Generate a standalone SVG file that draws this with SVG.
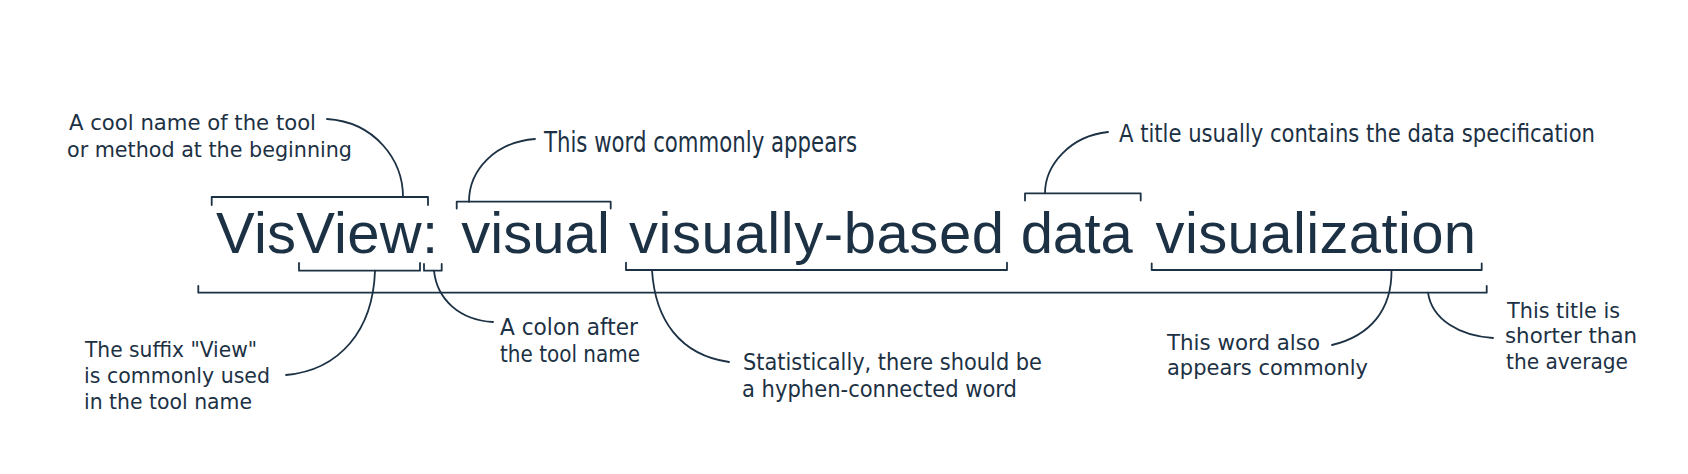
<svg xmlns="http://www.w3.org/2000/svg" width="1688" height="474" viewBox="0 0 1688 474">
<style>
.w{font-family:'Liberation Sans',Arial,sans-serif;font-size:58px;fill:#1c3144}
.n{font-family:'DejaVu Sans Condensed','DejaVu Sans',sans-serif;fill:#1c3144}
.c{fill:none;stroke:#1c3144;stroke-width:1.8;stroke-linecap:round;stroke-linejoin:round}
</style>
<rect width="1688" height="474" fill="#ffffff"/>
<g id="title">
<text class="w" x="216" y="252.7" textLength="222" lengthAdjust="spacing">VisView:</text>
<text class="w" x="461.3" y="252.7" textLength="148.5" lengthAdjust="spacing">visual</text>
<text class="w" x="629" y="252.7" textLength="375" lengthAdjust="spacing">visually-based</text>
<text class="w" x="1020.7" y="252.7" textLength="112" lengthAdjust="spacing">data</text>
<text class="w" x="1155.6" y="252.7" textLength="320.5" lengthAdjust="spacing">visualization</text>
</g>
<g id="note-cool-name" class="n" font-size="22">
<text x="69" y="130" textLength="247" lengthAdjust="spacingAndGlyphs">A cool name of the tool</text>
<text x="67" y="156.7" textLength="285" lengthAdjust="spacingAndGlyphs">or method at the beginning</text>
</g>
<g id="note-word-appears" class="n" font-size="28">
<text x="544" y="151.7" textLength="313" lengthAdjust="spacingAndGlyphs">This word commonly appears</text>
</g>
<g id="note-data-spec" class="n" font-size="24">
<text x="1119" y="141.7" textLength="476" lengthAdjust="spacingAndGlyphs">A title usually contains the data specification</text>
</g>
<g id="note-suffix" class="n" font-size="21.5">
<text x="85" y="357.3" textLength="172" lengthAdjust="spacingAndGlyphs">The suffix "View"</text>
<text x="84" y="383.3" textLength="186" lengthAdjust="spacingAndGlyphs">is commonly used</text>
<text x="84" y="408.8" textLength="168" lengthAdjust="spacingAndGlyphs">in the tool name</text>
</g>
<g id="note-colon" class="n" font-size="22.5">
<text x="500" y="335" textLength="138" lengthAdjust="spacingAndGlyphs">A colon after</text>
<text x="500" y="361.7" textLength="140" lengthAdjust="spacingAndGlyphs">the tool name</text>
</g>
<g id="note-hyphen" class="n" font-size="22.5">
<text x="743" y="370" textLength="299" lengthAdjust="spacingAndGlyphs">Statistically, there should be</text>
<text x="742" y="396.7" textLength="275" lengthAdjust="spacingAndGlyphs">a hyphen-connected word</text>
</g>
<g id="note-also" class="n" font-size="21.5">
<text x="1167" y="350" textLength="153" lengthAdjust="spacingAndGlyphs">This word also</text>
<text x="1167" y="375.3" textLength="201" lengthAdjust="spacingAndGlyphs">appears commonly</text>
</g>
<g id="note-shorter" class="n" font-size="21.5">
<text x="1507" y="318" textLength="113" lengthAdjust="spacingAndGlyphs">This title is</text>
<text x="1505" y="343.3" textLength="132" lengthAdjust="spacingAndGlyphs">shorter than</text>
<text x="1506" y="368.6" textLength="122" lengthAdjust="spacingAndGlyphs">the average</text>
</g>
<g id="connectors" class="c">
<path d="M211.7,205 L211.7,197 L428,197 L428,205"/>
<path d="M456.7,208.5 L456.7,201.7 L610.7,201.7 L610.7,208.5"/>
<path d="M1025,200.5 L1025,193.3 L1140.7,193.3 L1140.7,200.5"/>
<path d="M299,263 L299,270.7 L420,270.7 L420,263"/>
<path d="M424,264 L424,270.7 L441.7,270.7 L441.7,264"/>
<path d="M626,262.7 L626,270 L1007,270 L1007,262.7"/>
<path d="M1151.7,263.3 L1151.7,270 L1481.7,270 L1481.7,263.3"/>
<path d="M198.3,286 L198.3,292.7 L1486.7,292.7 L1486.7,286"/>
<path d="M327,119 C375,122 403,160 403,197"/>
<path d="M535,139 C495,142 469,170 469,201.7"/>
<path d="M1108,132 C1070,136 1045,165 1045,193.3"/>
<path d="M375,270.7 C373,330 340,370 286,375"/>
<path d="M434,270.7 C437,300 460,320 493,322"/>
<path d="M652,270 C655,320 680,355 729,362"/>
<path d="M1391.5,270 C1392,310 1370,336 1332,345"/>
<path d="M1428,292.7 C1432,320 1460,336 1493,338"/>
</g>
</svg>
